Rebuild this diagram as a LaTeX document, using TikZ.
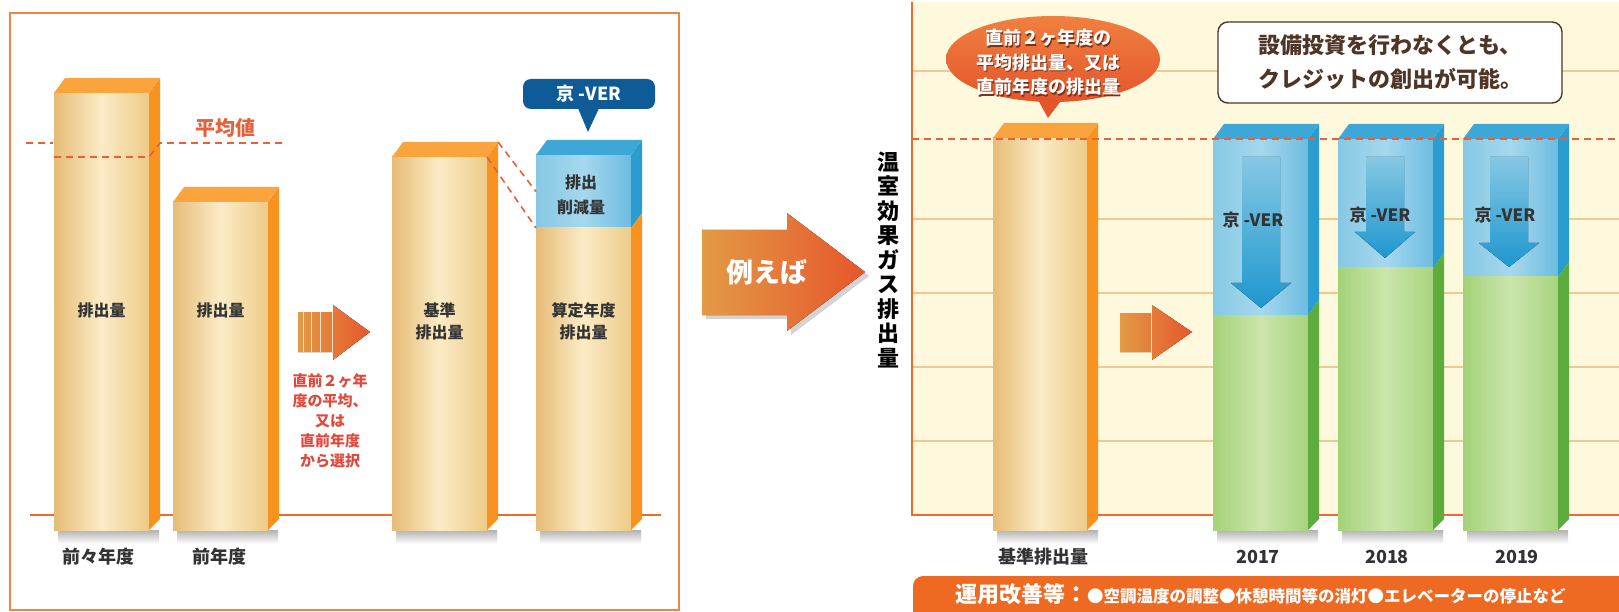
\documentclass[tikz,border=0pt]{standalone}
\usepackage{fontspec}
\setmainfont{Noto Sans CJK JP}
\usetikzlibrary{shapes,calc,shadows}

\definecolor{frameOrange}{HTML}{EE8446}
\definecolor{baseOrange}{HTML}{EE6A30}
\definecolor{tanL}{HTML}{E6BC76}
\definecolor{tanM}{HTML}{FBEBC6}
\definecolor{tanR}{HTML}{EDCB88}
\definecolor{tanSide}{HTML}{F7931E}
\definecolor{tanTop}{HTML}{F9A43C}
\definecolor{blueL}{HTML}{86C8E4}
\definecolor{blueM}{HTML}{A6D8EE}
\definecolor{blueR}{HTML}{6DBCE0}
\definecolor{blueSide}{HTML}{2A9CD0}
\definecolor{blueTop}{HTML}{3DA7D8}
\definecolor{arrowBlue}{HTML}{1E97CE}
\definecolor{greenL}{HTML}{A4D278}
\definecolor{greenM}{HTML}{CBE5AC}
\definecolor{greenR}{HTML}{A8D47E}
\definecolor{greenSide}{HTML}{5CAD3E}
\definecolor{cream}{HTML}{FEF8DD}
\definecolor{gridTan}{HTML}{EACB96}
\definecolor{dashRed}{HTML}{E8603A}
\definecolor{callOrange}{HTML}{E4552A}
\definecolor{callLight}{HTML}{F08040}
\definecolor{verNavy}{HTML}{0E5B98}
\definecolor{bannerOrange}{HTML}{EE6A22}
\definecolor{textDark}{HTML}{333333}
\definecolor{ruleRed}{HTML}{E2483C}
\definecolor{noteBrown}{HTML}{4E3526}
\definecolor{arrowL}{HTML}{E39A45}
\definecolor{arrowR}{HTML}{E6562C}

% depth of the 3d bars
\def\bdx{11}
\def\bdy{15}
% side and top faces of a bar node
\newcommand{\cubside}[3]{\fill[#2] (#1.north east) -- ++(\bdx,-\bdy) -- ($(#1.south east)+(\bdx,-#3)$) -- (#1.south east) -- cycle;}
\newcommand{\cubtop}[2]{\fill[#2] (#1.north west) -- ++(\bdx,-\bdy) -- ($(#1.north east)+(\bdx,-\bdy)$) -- (#1.north east) -- cycle;}

\tikzset{
barfront/.style = {rectangle, draw=none, inner sep=0pt, outer sep=0pt, anchor=north west},
tanface/.style = {left color=tanL, right color=tanR, middle color=tanM},
blueface/.style = {left color=blueL, right color=blueR, middle color=blueM},
greenface/.style = {left color=greenL, right color=greenR, middle color=greenM},
barshadow/.style = {top color=black!30, bottom color=white, draw=none},
framebox/.style = {draw=frameOrange, line width=2.4pt},
axisline/.style = {draw=baseOrange, line width=2.4pt},
gridline/.style = {draw=gridTan, line width=1.5pt},
avgline/.style = {draw=dashRed, line width=1.6pt, dash pattern=on 7pt off 5pt},
stepfill/.style = {left color=arrowL, right color=arrowR},
downfill/.style = {top color=blueL, bottom color=arrowBlue},
barlab/.style = {font=\bfseries\fontsize{16}{22}\selectfont, text=textDark, align=center, inner sep=0pt},
catlab/.style = {font=\bfseries\fontsize{18}{18}\selectfont, text=textDark, inner sep=0pt},
verlab/.style = {font=\bfseries\fontsize{17}{17}\selectfont, text=textDark, inner sep=0pt},
calltext/.style = {font=\bfseries\fontsize{18}{24.5}\selectfont, align=center, inner sep=0pt}
}

\begin{document}
\begin{tikzpicture}[x=1pt, y=-1pt]
    \useasboundingbox (0,0) rectangle (1619,612);

    % Left panel: frame and base line
    \draw[framebox] (10,13) rectangle (679,610);
    \draw[axisline] (30,515) -- (661,515);
    \foreach \xl/\xr in {54/149, 173/268, 392/487, 536/631}
        \fill[barshadow] (\xl+4,530) rectangle (\xr+10,544);

    % We start by placing the bars
    \node[barfront, tanface, minimum width=95, minimum height=437] (b1) at (54,93) {};
    \cubside{b1}{tanSide}{\bdx} \cubtop{b1}{tanTop}
    \node[barfront, tanface, minimum width=95, minimum height=328] (b2) at (173,202) {};
    \cubside{b2}{tanSide}{\bdx} \cubtop{b2}{tanTop}
    \node[barfront, tanface, minimum width=95, minimum height=373] (b3) at (392,157) {};
    \cubside{b3}{tanSide}{\bdx} \cubtop{b3}{tanTop}
    \node[barfront, blueface, minimum width=95, minimum height=73] (b4v) at (536,155) {};
    \cubside{b4v}{blueSide}{\bdy} \cubtop{b4v}{blueTop}
    \node[barfront, tanface, minimum width=95, minimum height=302] (b4) at (536,228) {};
    \cubside{b4}{tanSide}{\bdx}

    % average line
    \draw[avgline] (26,143) -- (53,143);
    \draw[avgline] (54,157) -- (149,157) -- (160,143) -- (282,143);
    \node[font=\bfseries\fontsize{20}{20}\selectfont, text=dashRed, inner sep=0pt] (avg) at (225,128) {平均値};
    \draw[avgline] ($(b3.north east)+(\bdx,-\bdy)$) -- (b4v.west);
    \draw[avgline] (b3.north east) -- (b4v.south west);

    % labels on the bars
    \node[barlab] (l1) at (101.5,310) {排出量};
    \node[barlab] (l2) at (220.5,310) {排出量};
    \node[barlab] (l3) at (439.5,321) {基準\\排出量};
    \node[barlab] (l4) at (583.5,321) {算定年度\\排出量};
    \node[barlab, font=\bfseries\fontsize{16}{25}\selectfont] (l4v) at (581,195) {排出\\削減量};
    \node[catlab] (y1) at (98,557) {前々年度};
    \node[catlab] (y2) at (219,557) {前年度};

    % step arrow and rule
    \fill[stepfill] (298,312) -- (333,312) -- (333,305) -- (370,332) -- (333,360) -- (333,352) -- (298,352) -- cycle;
    \foreach \x in {303,311,320,332}
        \draw[white!70!arrowL, line width=0.8pt] (\x,312) -- (\x,352);
    \node[font=\bfseries\fontsize{15}{20}\selectfont, text=ruleRed, align=center, inner sep=0pt] (rule) at (330,421)
        {直前２ヶ年\\度の平均、\\又は\\直前年度\\から選択};

    % credit callout
    \node[rectangle, rounded corners=8pt, fill=verNavy, minimum width=132, minimum height=30, inner sep=0pt,
        text=white, font=\bfseries\fontsize{18}{18}\selectfont] (vercall) at (589,94) {京 -VER};
    \coordinate (vertip) at (588,132);
    \fill[verNavy] ($(vercall.south)+(-11,-1)$) -- (vertip) -- ($(vercall.south)+(10,-1)$) -- cycle;

    % "for example" arrow
    \fill[left color=arrowL, right color=arrowR, drop shadow={shadow xshift=4pt, shadow yshift=-4pt, opacity=0.35}]
        (702,230) -- (787,230) -- (787,213) -- (865,272) -- (787,331) -- (787,315) -- (702,315) -- cycle;
    \node[font=\bfseries\fontsize{27}{27}\selectfont, text=white, inner sep=0pt] (ex) at (767,272) {例えば};

    % Right panel: chart area
    \fill[cream] (912,2) rectangle (1619,515);
    \foreach \y in {71,219,293,367,441}
        \draw[gridline] (912,\y) -- (1619,\y);
    \draw[axisline] (912,2) -- (912,515) -- (1619,515);
    \node[font=\bfseries\fontsize{22}{24.5}\selectfont, text=black, align=center, inner sep=0pt] (yaxis) at (888,260)
        {温\\室\\効\\果\\ガ\\ス\\排\\出\\量};

    \foreach \xl in {993,1213,1338,1463}
        \fill[barshadow] (\xl+4,530) rectangle (\xl+105,544);
    \node[barfront, tanface, minimum width=94, minimum height=392] (rb) at (993,138) {};
    \cubside{rb}{tanSide}{\bdx} \cubtop{rb}{tanTop}
    \node[catlab] (yb) at (1043,557) {基準排出量};

    % reduced years
    \foreach \n/\x/\h/\c/\hs/\tip/\yr/\yx in {1/1213/176/1261/283/308/2017/1258, 2/1338/129/1385/232/258/2018/1387, 3/1463/138/1509/243/267/2019/1517}{
        \node[barfront, blueface, minimum width=95, minimum height=\h] (rv\n) at (\x,139) {};
        \cubside{rv\n}{blueSide}{\bdy} \cubtop{rv\n}{blueTop}
        \node[barfront, greenface, minimum width=95, minimum height=391-\h] (rg\n) at (\x,139+\h) {};
        \cubside{rg\n}{greenSide}{\bdx}
        \fill[downfill] (\c-19,157) -- (\c+19,157) -- (\c+19,\hs) -- (\c+30,\hs) -- (\c,\tip) -- (\c-30,\hs) -- (\c-19,\hs) -- cycle;
        \node[catlab] (yr\n) at (\yx,557) {\yr};
    }
    \node[verlab] (v1) at (1253,220) {京 -VER};
    \node[verlab] (v2) at (1380,215) {京 -VER};
    \node[verlab] (v3) at (1505,215) {京 -VER};

    \draw[avgline] (912,139) -- (1619,139);

    % step arrow
    \fill[stepfill] (1120,313) -- (1152,313) -- (1152,305) -- (1192,332) -- (1152,360) -- (1152,352) -- (1120,352) -- cycle;
    \draw[white!70!arrowL, line width=1pt] (1151,313) -- (1151,352);

    % base callout
    \node[ellipse, top color=callLight, bottom color=callOrange, minimum width=214, minimum height=86, inner sep=0pt] (avgcall) at (1053,59) {};
    \coordinate (avgtip) at (1048,118);
    \fill[callOrange] ($(avgcall.south)+(-16,-4)$) -- (avgtip) -- ($(avgcall.south)+(10,-4)$) -- cycle;
    \node[calltext, text=callOrange!55!black] (avgsh) at (1049.2,63.7)
        {直前２ヶ年度の\\平均排出量、又は\\直前年度の排出量};
    \node[calltext, text=white] (avgtxt) at (1048,62.5)
        {直前２ヶ年度の\\平均排出量、又は\\直前年度の排出量};

    % note
    \node[rectangle, rounded corners=10pt, draw=noteBrown, line width=1.4pt, fill=white, minimum width=344, minimum height=81,
        inner sep=0pt, align=center, text=noteBrown, font=\bfseries\fontsize{22}{34}\selectfont] (note) at (1390,62.5)
        {設備投資を行わなくとも、\\クレジットの創出が可能。};

    % banner
    \fill[bannerOrange, rounded corners=10pt] (913,576) rectangle (1650,640);
    \node[anchor=west, text=white, inner sep=0pt, font=\bfseries] (banner) at (955,594)
        {{\fontsize{22}{22}\selectfont 運用改善等：}{\fontsize{16.5}{17}\selectfont ●空調温度の調整●休憩時間等の消灯●エレベーターの停止など}};
\end{tikzpicture}
\end{document}
